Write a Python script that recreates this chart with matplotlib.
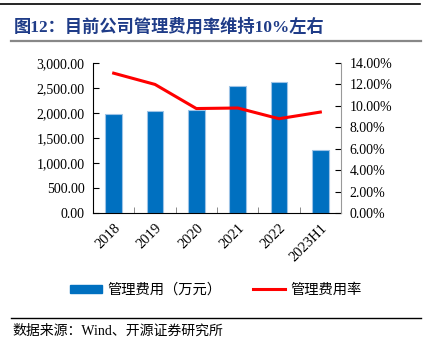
import matplotlib
matplotlib.use("Agg")
import matplotlib.pyplot as plt
from matplotlib.ticker import FuncFormatter, FixedLocator
from matplotlib.patches import Patch
from matplotlib.lines import Line2D

plt.rcParams['font.family'] = ['Liberation Serif', 'Noto Sans CJK SC', 'DejaVu Sans']

categories = ['2018', '2019', '2020', '2021', '2022', '2023H1']
admin_expense = [1990, 2045, 2070, 2545, 2630, 1260]      # 万元
admin_rate = [13.05, 12.0, 9.75, 9.8, 8.8, 9.42]           # %

title = '图12：目前公司管理费用率维持10%左右'
legend_labels = ['管理费用（万元）', '管理费用率']
source = '数据来源：Wind、开源证券研究所'

W, H = 427, 344
fig = plt.figure(figsize=(W / 100, H / 100), dpi=100)

ax = fig.add_axes([93 / W, 1 - 213 / H, (341 - 93) / W, (213 - 63) / H])
x = list(range(len(categories)))
ax.bar(x, admin_expense, width=0.4, color='#0070C0', edgecolor='#9DC3E6',
       linewidth=0.8, zorder=2)
ax.set_xlim(-0.5, len(categories) - 0.5)
ax.set_ylim(0, 3000)
ax.set_yticks(range(0, 3001, 500))
ax.yaxis.set_major_formatter(FuncFormatter(lambda v, p: f'{v:,.2f}'))
ax.tick_params(axis='y', direction='in', length=4, labelsize=10, pad=6)
ax.set_xticks(x)
ax.set_xticklabels(categories, rotation=45, ha='right', rotation_mode='anchor', fontsize=10.5)
ax.tick_params(axis='x', which='major', length=0, pad=6)
ax.xaxis.set_minor_locator(FixedLocator([i + 0.5 for i in range(len(categories) - 1)]))
ax.tick_params(axis='x', which='minor', direction='in', length=4, color='#777777')
ax.spines['top'].set_visible(False)
ax.spines['right'].set_visible(False)

ax2 = ax.twinx()
ax2.plot(x, admin_rate, color='#FF0000', linewidth=2.2, zorder=3)
ax2.set_ylim(0, 14)
ax2.set_yticks(range(0, 15, 2))
ax2.yaxis.set_major_formatter(FuncFormatter(lambda v, p: f'{v:.2f}%'))
ax2.tick_params(axis='y', direction='in', length=4, labelsize=10, pad=6)
ax2.spines['top'].set_visible(False)
ax2.spines['left'].set_visible(False)
ax2.spines['bottom'].set_visible(False)
ax2.spines['right'].set_color('#999999')

# header line and title
fig.add_artist(Line2D([0, 420 / W], [1 - 3.5 / H, 1 - 3.5 / H], color='black', lw=1.2))
fig.text(14 / W, 1 - 27 / H, title, fontsize=12.4, fontweight='bold', color='#1F3C88',
         va='center', ha='left', family=['Liberation Serif', 'Noto Sans CJK SC'])
fig.add_artist(Line2D([11 / W, 421 / W], [1 - 40.5 / H, 1 - 40.5 / H], color='#888888', lw=1.6))

# legend
handles = [Patch(facecolor='#0070C0', edgecolor='#0070C0'),
           Line2D([], [], color='#FF0000', lw=2.2)]
fig.legend(handles, legend_labels, loc='center', bbox_to_anchor=(216 / W, 1 - 290 / H),
           ncol=2, frameon=False, handlelength=2.2, handleheight=0.55,
           columnspacing=2.2, handletextpad=0.4,
           prop={'family': ['Noto Sans CJK SC'], 'size': 10.3})

# footer
fig.add_artist(Line2D([11 / W, 421 / W], [1 - 318 / H, 1 - 318 / H], color='black', lw=1.0))
fig.text(12 / W, 1 - 331 / H, source, fontsize=10, va='center', ha='left',
         family=['Liberation Serif', 'Noto Sans CJK SC'])

fig.savefig('out.png', dpi=100)
